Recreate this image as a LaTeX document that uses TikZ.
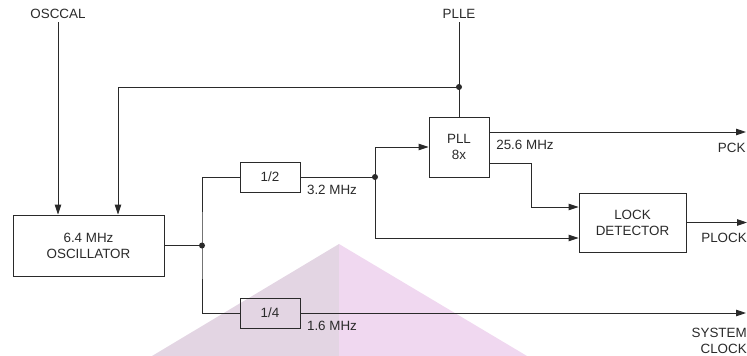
\documentclass[tikz,border=0pt]{standalone}
\usepackage{fontspec}
\setmainfont{Liberation Sans}
\usepackage{tikz}
\usetikzlibrary{positioning,arrows.meta,calc,backgrounds}
\definecolor{linecol}{HTML}{2A2A2A}
\definecolor{wmleft}{HTML}{E3D5E3}
\definecolor{wmright}{HTML}{F0D8F0}
\newcommand{\jdot}[1]{\fill[linecol] (#1) circle (3pt);}% junction dot
\tikzset{
  blk/.style={draw=linecol, line width=0.9pt, inner sep=0pt, align=center},
  wire/.style={draw=linecol, line width=0.9pt},
  arr/.style={wire, -{Triangle[length=10pt,width=6.5pt]}},
}

\begin{document}
\begin{tikzpicture}[x=1pt, y=-1pt, every node/.style={font=\fontsize{13.4}{16}\selectfont, text=linecol}]
      \useasboundingbox (0,0) rectangle (747,356);
      % watermark in the back
      \begin{scope}[on background layer]
        \fill[wmleft] (339,244) -- (152,356) -- (339,356) -- cycle;
        \fill[wmright] (339,244) -- (527,356) -- (339,356) -- cycle;
      \end{scope}
      % blocks
      \node[blk, minimum width=151pt, minimum height=61pt] (osc) at (88.5,245.5) {6.4 MHz\\OSCILLATOR};
      \node[blk, minimum width=60pt, minimum height=30pt] (half) at (270,177) {1/2};
      \node[blk, minimum width=60pt, minimum height=30pt] (quarter) at (270,313) {1/4};
      \node[blk, minimum width=60pt, minimum height=60pt] (pll) at (459,147) {PLL\\8x};
      \node[blk, minimum width=107pt, minimum height=59pt] (ld) at (632.5,222.5) {LOCK\\DETECTOR};
      % inputs
      \node (osccal) at (58,14) {OSCCAL};
      \node (plle) at (459,14) {PLLE};
      \coordinate (jfb) at (459,87);
      \coordinate (fbturn) at (118,87);
      \coordinate (j1) at (202,245.5);
      \coordinate (j2) at (375,177);
      % output ends
      \coordinate (pckend) at (746,132);
      \coordinate (plockend) at (747,222.5);
      \coordinate (sysend) at (746,313);
      % labels
      \node (f32) at (332,190) {3.2 MHz};
      \node (f16) at (332,326) {1.6 MHz};
      \node (f256) at (525,145) {25.6 MHz};
      \node[anchor=east] (pck) at (749,148) {PCK};
      \node[anchor=east] (plock) at (750.3,238) {PLOCK};
      \node[anchor=east, align=right] (sysclk) at (750.3,341) {SYSTEM\\CLOCK};
      % wires
      \draw[arr] (osccal.south) -- (osccal.south |- osc.north);
      \draw[wire] (plle.south) -- (pll.north);
      \draw[arr] (jfb) -- (fbturn) -- (fbturn |- osc.north);
      \draw[wire] (osc.east) -- (j1);
      \draw[wire] (half.west) -| (j1) |- (quarter.west);
      \draw[wire] (half.east) -- (j2);
      \draw[arr] (j2) |- (pll.west);
      \draw[arr] (j2) |- ([yshift=-15.5pt]ld.west);
      \draw[arr] ([yshift=15pt]pll.east) -- (pckend);
      \draw[arr] ([yshift=-16pt]pll.east) -- ++(42,0) |- ([yshift=15.5pt]ld.west);
      \draw[arr] (ld.east) -- (plockend);
      \draw[arr] (quarter.east) -- (sysend);
      \jdot{jfb} \jdot{j1} \jdot{j2}
    \end{tikzpicture}
\end{document}
